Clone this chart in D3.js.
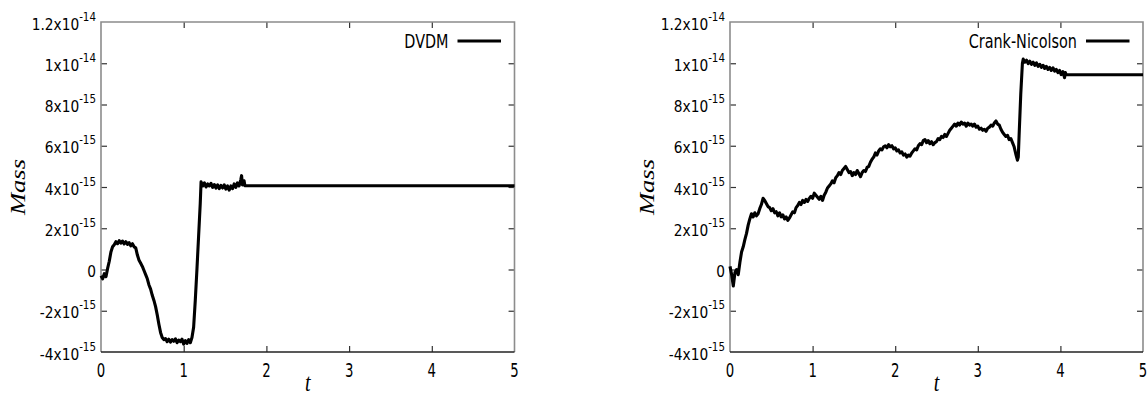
<!DOCTYPE html>
<html>
<head>
<meta charset="utf-8">
<script src="https://cdn.jsdelivr.net/npm/d3@7"></script>
<style>
  body { margin: 0; background: #fff; }
</style>
</head>
<body>
<svg id="chart" width="1147" height="398"></svg>
<script>
// mass values are in units of 1e-15
const xTicks = [0, 1, 2, 3, 4, 5];
const yTicks = [-4, -2, 0, 2, 4, 6, 8, 10, 12];
const yTickMant = ['-4', '-2', '0', '2', '4', '6', '8', '1', '1.2'];
const yTickExp = ['-15', '-15', '', '-15', '-15', '-15', '-15', '-14', '-14'];
const seriesNames = ['DVDM', 'Crank-Nicolson'];

// [t, mass]
const dvdm = [
  [0.00,-0.30],[0.02,-0.45],[0.04,-0.20],[0.06,-0.35],[0.08,0.05],[0.10,0.40],[0.12,0.85],
  [0.14,1.10],[0.16,1.20],[0.18,1.35],[0.20,1.25],[0.22,1.40],[0.24,1.28],[0.26,1.38],
  [0.28,1.24],[0.30,1.35],[0.32,1.22],[0.34,1.30],[0.36,1.15],[0.38,1.25],[0.40,1.10],
  [0.42,1.05],[0.44,0.70],[0.46,0.45],[0.48,0.30],[0.50,0.15],[0.52,-0.05],[0.54,-0.25],
  [0.56,-0.45],[0.58,-0.75],[0.60,-0.95],[0.62,-1.25],[0.64,-1.50],[0.66,-1.80],[0.68,-2.20],
  [0.70,-2.65],[0.72,-3.05],[0.74,-3.30],[0.76,-3.40],[0.78,-3.35],[0.80,-3.50],[0.82,-3.38],
  [0.84,-3.52],[0.86,-3.40],[0.88,-3.48],[0.90,-3.36],[0.92,-3.55],[0.94,-3.42],[0.96,-3.50],
  [0.98,-3.38],[1.00,-3.62],[1.02,-3.45],[1.04,-3.58],[1.06,-3.40],[1.08,-3.55],[1.10,-3.30],
  [1.12,-2.80],[1.14,-1.50],[1.16,0.00],[1.18,1.60],[1.20,3.20],[1.21,4.25],[1.23,4.05],
  [1.25,4.20],[1.27,4.00],[1.29,4.15],[1.31,4.05],[1.33,4.18],[1.35,3.98],[1.37,4.12],
  [1.39,3.95],[1.41,4.10],[1.43,3.92],[1.45,4.08],[1.47,3.95],[1.49,4.10],[1.51,3.90],
  [1.53,4.05],[1.55,3.85],[1.57,4.05],[1.59,3.92],[1.61,4.15],[1.63,3.98],[1.65,4.20],
  [1.67,4.05],[1.69,4.35],[1.70,4.55],[1.71,4.10],[1.73,4.30],[1.74,4.06],[5.00,4.06]
];

const crankNicolson = [
  [0.00,0.15],[0.02,-0.25],[0.04,-0.80],[0.06,-0.15],[0.08,0.00],[0.10,-0.25],[0.12,0.35],
  [0.14,0.85],[0.16,1.10],[0.18,1.45],[0.20,1.75],[0.22,2.15],[0.24,2.45],[0.26,2.70],
  [0.28,2.55],[0.30,2.75],[0.32,2.60],[0.34,2.70],[0.36,2.95],[0.38,3.15],[0.40,3.45],
  [0.42,3.35],[0.44,3.20],[0.46,3.05],[0.48,3.00],[0.50,2.85],[0.52,2.95],[0.54,2.75],
  [0.56,2.80],[0.58,2.60],[0.60,2.75],[0.62,2.55],[0.64,2.65],[0.66,2.45],[0.68,2.55],
  [0.70,2.38],[0.72,2.50],[0.74,2.65],[0.76,2.80],[0.78,2.75],[0.80,3.00],[0.82,3.10],
  [0.84,3.25],[0.86,3.15],[0.88,3.35],[0.90,3.25],[0.92,3.40],[0.94,3.30],[0.96,3.45],
  [0.98,3.55],[1.00,3.45],[1.02,3.70],[1.04,3.60],[1.06,3.50],[1.08,3.40],[1.10,3.55],
  [1.12,3.35],[1.14,3.60],[1.16,3.75],[1.18,3.95],[1.20,4.05],[1.22,4.15],[1.24,4.30],
  [1.26,4.20],[1.28,4.45],[1.30,4.55],[1.32,4.70],[1.34,4.60],[1.36,4.80],[1.38,4.90],
  [1.40,5.00],[1.42,4.85],[1.44,4.70],[1.46,4.75],[1.48,4.55],[1.50,4.70],[1.52,4.60],
  [1.54,4.80],[1.56,4.65],[1.58,4.50],[1.60,4.70],[1.62,4.80],[1.64,4.75],[1.66,4.95],
  [1.68,5.00],[1.70,5.20],[1.72,5.35],[1.74,5.45],[1.76,5.65],[1.78,5.55],[1.80,5.75],
  [1.82,5.85],[1.84,5.80],[1.86,5.95],[1.88,6.00],[1.90,5.90],[1.92,6.05],[1.94,5.95],
  [1.96,6.00],[1.98,5.85],[2.00,5.90],[2.02,5.75],[2.04,5.80],[2.06,5.65],[2.08,5.70],
  [2.10,5.55],[2.12,5.60],[2.14,5.45],[2.16,5.55],[2.18,5.50],[2.20,5.65],[2.22,5.75],
  [2.24,5.85],[2.26,5.80],[2.28,6.00],[2.30,6.10],[2.32,6.05],[2.34,6.25],[2.36,6.30],
  [2.38,6.15],[2.40,6.25],[2.42,6.10],[2.44,6.20],[2.46,6.05],[2.48,6.15],[2.50,6.20],
  [2.52,6.35],[2.54,6.30],[2.56,6.45],[2.58,6.40],[2.60,6.55],[2.62,6.45],[2.64,6.60],
  [2.66,6.75],[2.68,6.85],[2.70,6.95],[2.72,7.05],[2.74,6.95],[2.76,7.10],[2.78,7.00],
  [2.80,7.15],[2.82,7.05],[2.84,7.10],[2.86,6.95],[2.88,7.10],[2.90,7.00],[2.92,7.05],
  [2.94,6.95],[2.96,7.05],[2.98,6.90],[3.00,6.95],[3.02,6.80],[3.04,6.85],[3.06,6.75],
  [3.08,6.80],[3.10,6.70],[3.12,6.85],[3.14,6.90],[3.16,7.00],[3.18,6.95],[3.20,7.10],
  [3.22,7.20],[3.24,7.05],[3.26,7.00],[3.28,6.80],[3.30,6.65],[3.32,6.55],[3.34,6.45],
  [3.36,6.50],[3.38,6.30],[3.40,6.35],[3.42,6.15],[3.44,5.95],[3.46,5.60],[3.48,5.30],
  [3.49,5.45],[3.50,6.50],[3.52,8.50],[3.54,10.00],[3.55,10.20],[3.57,10.05],[3.59,10.15],
  [3.61,9.98],[3.63,10.10],[3.65,9.95],[3.67,10.05],[3.69,9.90],[3.71,10.02],[3.73,9.85],
  [3.75,9.95],[3.77,9.80],[3.79,9.90],[3.81,9.75],[3.83,9.85],[3.85,9.70],[3.87,9.80],
  [3.89,9.65],[3.91,9.78],[3.93,9.62],[3.95,9.70],[3.97,9.55],[3.99,9.65],[4.01,9.45],
  [4.03,9.60],[4.05,9.30],[4.06,9.55],[4.07,9.44],[5.00,9.44]
];

const svg = d3.select('#chart');
const plotTop = 22, plotBottom = 352;
const panels = [
  { name: seriesNames[0], data: dvdm, left: 101, right: 514.5 },
  { name: seriesNames[1], data: crankNicolson, left: 730, right: 1143 }
];
const sans = 'DejaVu Sans, Verdana, sans-serif';
const serif = 'Liberation Serif, Times New Roman, serif';

// text squeezed sideways, the original fonts are narrow
function squeezed(parent, x, y, sx, sy) {
  return parent.append('text').attr('transform', `translate(${x},${y}) scale(${sx},${sy})`);
}

panels.forEach(p => {
  const x = d3.scaleLinear().domain([0, 5]).range([p.left, p.right]);
  const y = d3.scaleLinear().domain([-4, 12]).range([plotBottom, plotTop]);
  const g = svg.append('g');

  // inward ticks on all four sides
  const tickStyle = sel => {
    sel.select('.domain').remove();
    sel.selectAll('.tick line').attr('stroke', '#333').attr('stroke-width', 1.2);
    sel.selectAll('.tick text').remove();
  };
  g.append('g').attr('transform', `translate(0,${plotBottom})`)
    .call(d3.axisBottom(x).tickValues(xTicks.slice(1, -1)).tickSize(-6)).call(tickStyle);
  g.append('g').attr('transform', `translate(0,${plotTop})`)
    .call(d3.axisTop(x).tickValues(xTicks.slice(1, -1)).tickSize(-6)).call(tickStyle);
  g.append('g').attr('transform', `translate(${p.left},0)`)
    .call(d3.axisLeft(y).tickValues(yTicks.slice(1, -1)).tickSize(-6)).call(tickStyle);
  g.append('g').attr('transform', `translate(${p.right},0)`)
    .call(d3.axisRight(y).tickValues(yTicks.slice(1, -1)).tickSize(-6)).call(tickStyle);

  // frame: grey on three sides, dark at the bottom
  g.append('path')
    .attr('d', `M${p.left},${plotBottom}V${plotTop}H${p.right}V${plotBottom}`)
    .attr('fill', 'none').attr('stroke', '#8c8c8c').attr('stroke-width', 1.6);
  g.append('line')
    .attr('x1', p.left).attr('x2', p.right).attr('y1', plotBottom).attr('y2', plotBottom)
    .attr('stroke', '#222').attr('stroke-width', 1.6);

  // y tick labels like 2x10^-15
  yTicks.forEach((v, i) => {
    const t = squeezed(g, p.left - 5, y(v) + 7.5, 0.86, 1)
      .attr('text-anchor', 'end').attr('font-family', sans).attr('font-size', 16).attr('fill', '#000');
    t.append('tspan').text(yTickMant[i] + (yTickExp[i] ? 'x10' : ''));
    if (yTickExp[i]) t.append('tspan').attr('dy', -9).attr('font-size', 12).text(yTickExp[i]);
  });

  // x tick labels
  xTicks.forEach(v => {
    squeezed(g, x(v), 377, 0.7, 1)
      .attr('text-anchor', 'middle').attr('font-family', sans).attr('font-size', 19).attr('fill', '#000')
      .text(v);
  });

  // axis titles
  squeezed(g, (p.left + p.right) / 2, 391, 1, 1.25)
    .attr('text-anchor', 'middle').attr('font-family', serif).attr('font-style', 'italic')
    .attr('font-size', 20).text('t');
  g.append('text')
    .attr('transform', `translate(${p.left - 76},${(plotTop + plotBottom) / 2}) rotate(-90) scale(1.33,1)`)
    .attr('text-anchor', 'middle').attr('font-family', serif).attr('font-style', 'italic')
    .attr('font-size', 20).text('Mass');

  // curve
  const line = d3.line().x(d => x(d[0])).y(d => y(d[1]));
  g.append('path').datum(p.data)
    .attr('fill', 'none').attr('stroke', '#000').attr('stroke-width', 3.1)
    .attr('stroke-linejoin', 'round').attr('d', line);

  // legend
  squeezed(g, p.right - 66, 48, 0.72, 1)
    .attr('text-anchor', 'end').attr('font-family', sans).attr('font-size', 20).attr('fill', '#000')
    .text(p.name);
  g.append('line')
    .attr('x1', p.right - 57).attr('x2', p.right - 13.5).attr('y1', 41).attr('y2', 41)
    .attr('stroke', '#000').attr('stroke-width', 3);
});
</script>
</body>
</html>
